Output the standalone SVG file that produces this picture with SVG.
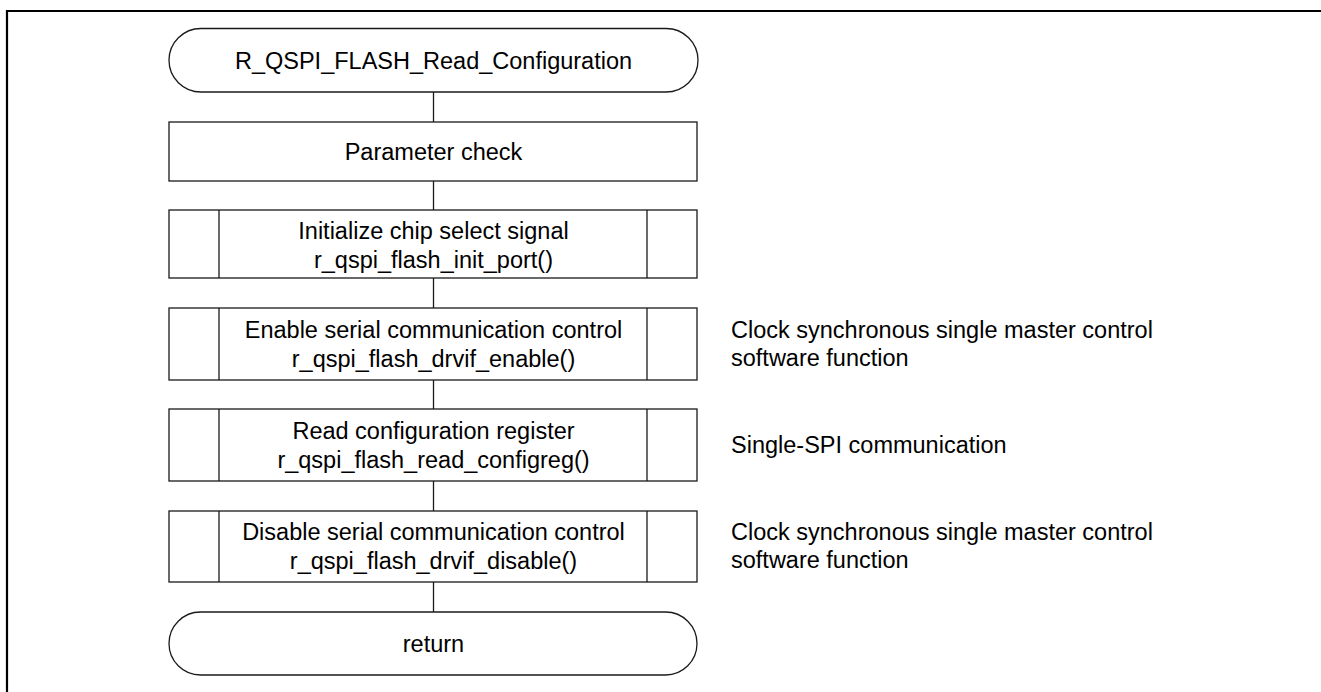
<svg xmlns="http://www.w3.org/2000/svg" width="1321" height="692" viewBox="0 0 1321 692">
<style>
.s{fill:#fff;stroke:#1a1a1a;stroke-width:1.3}
.l{stroke:#1a1a1a;stroke-width:1.3;fill:none}
.t{font-family:"Liberation Sans",Arial,sans-serif;font-size:23.5px;fill:#000}
.c{text-anchor:middle}
</style>
<rect x="0" y="0" width="1321" height="692" fill="#fff"/>
<path d="M7,692 V11 H1321" fill="none" stroke="#000" stroke-width="2.2"/>
<g id="connectors">
<line class="l" x1="433.5" y1="92" x2="433.5" y2="122"/>
<line class="l" x1="433.5" y1="181" x2="433.5" y2="210"/>
<line class="l" x1="433.5" y1="278" x2="433.5" y2="308"/>
<line class="l" x1="433.5" y1="380" x2="433.5" y2="409"/>
<line class="l" x1="433.5" y1="481" x2="433.5" y2="511"/>
<line class="l" x1="433.5" y1="582" x2="433.5" y2="612"/>
</g>
<g id="start">
<rect class="s" x="169" y="28.5" width="529" height="63.5" rx="32" ry="32"/>
<text class="t c" x="433.5" y="68.5">R_QSPI_FLASH_Read_Configuration</text>
</g>
<g id="param">
<rect class="s" x="169" y="122" width="528" height="59"/>
<text class="t c" x="433.5" y="160">Parameter check</text>
</g>
<g id="init">
<rect class="s" x="169" y="210" width="528" height="68"/>
<line class="l" x1="219" y1="210" x2="219" y2="278"/>
<line class="l" x1="647" y1="210" x2="647" y2="278"/>
<text class="t c" x="433.5" y="239">Initialize chip select signal</text>
<text class="t c" x="433.5" y="268">r_qspi_flash_init_port()</text>
</g>
<g id="enable">
<rect class="s" x="169" y="308" width="528" height="72"/>
<line class="l" x1="219" y1="308" x2="219" y2="380"/>
<line class="l" x1="647" y1="308" x2="647" y2="380"/>
<text class="t c" x="433.5" y="338">Enable serial communication control</text>
<text class="t c" x="433.5" y="367">r_qspi_flash_drvif_enable()</text>
</g>
<g id="readcfg">
<rect class="s" x="169" y="409" width="528" height="72"/>
<line class="l" x1="219" y1="409" x2="219" y2="481"/>
<line class="l" x1="647" y1="409" x2="647" y2="481"/>
<text class="t c" x="433.5" y="439">Read configuration register</text>
<text class="t c" x="433.5" y="468">r_qspi_flash_read_configreg()</text>
</g>
<g id="disable">
<rect class="s" x="169" y="511" width="528" height="71"/>
<line class="l" x1="219" y1="511" x2="219" y2="582"/>
<line class="l" x1="647" y1="511" x2="647" y2="582"/>
<text class="t c" x="433.5" y="540">Disable serial communication control</text>
<text class="t c" x="433.5" y="569">r_qspi_flash_drvif_disable()</text>
</g>
<g id="end">
<rect class="s" x="169" y="612" width="528" height="63" rx="31.5" ry="31.5"/>
<text class="t c" x="433.5" y="652">return</text>
</g>
<g id="notes">
<text class="t" x="731" y="338">Clock synchronous single master control</text>
<text class="t" x="731" y="366">software function</text>
<text class="t" x="731" y="453">Single-SPI communication</text>
<text class="t" x="731" y="540">Clock synchronous single master control</text>
<text class="t" x="731" y="568">software function</text>
</g>
</svg>
